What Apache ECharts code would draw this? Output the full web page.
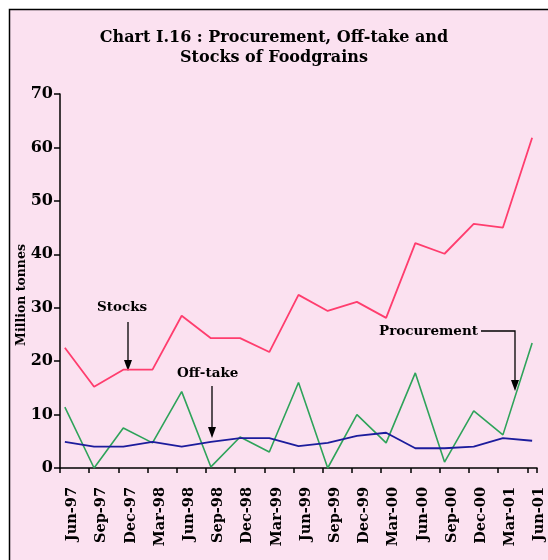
<!DOCTYPE html>
<html>
<head>
<meta charset="utf-8">
<script src="https://cdn.jsdelivr.net/npm/echarts@6/dist/echarts.min.js"></script>
<style>html,body{margin:0;padding:0;background:#fff}#c{width:548px;height:560px}</style>
</head>
<body>
<div id="c"></div>
<script>
// Quarterly labels shown on the axis
var quarterLabels = ['Jun-97','Sep-97','Dec-97','Mar-98','Jun-98','Sep-98','Dec-98','Mar-99','Jun-99','Sep-99','Dec-99','Mar-00','Jun-00','Sep-00','Dec-00','Mar-01','Jun-01'];
// Series values (million tonnes), one per quarter
var stocks      = [22.5, 15.2, 18.4, 18.4, 28.5, 24.3, 24.3, 21.7, 32.4, 29.4, 31.1, 28.1, 42.1, 40.1, 45.7, 45.0, 61.8];
var procurement = [11.4, 0.0, 7.5, 4.7, 14.3, 0.2, 5.8, 3.0, 16.0, 0.0, 10.0, 4.7, 17.8, 1.1, 10.7, 6.2, 23.4];
var offtake     = [4.9, 4.0, 4.0, 4.9, 4.0, 4.9, 5.6, 5.6, 4.1, 4.7, 6.0, 6.6, 3.7, 3.7, 4.0, 5.6, 5.1];
var yTicks = [0, 10, 20, 30, 40, 50, 60, 70];

// Monthly category axis (Jun-97 .. Jun-01); quarterly points sit on every 3rd month
var monthNames = ['Jan','Feb','Mar','Apr','May','Jun','Jul','Aug','Sep','Oct','Nov','Dec'];
var categories = [];
for (var y = 1997; y <= 2001; y++) {
  for (var m = 0; m < 12; m++) {
    if ((y === 1997 && m < 5) || (y === 2001 && m > 5)) continue;
    categories.push(monthNames[m] + '-' + String(y).slice(2));
  }
}
function toMonthly(arr) {
  var out = categories.map(function () { return null; });
  quarterLabels.forEach(function (q, i) { out[categories.indexOf(q)] = arr[i]; });
  return out;
}

var serif = 'DejaVu Serif';
var annFont = 'bold 13.5px "DejaVu Serif"';
var chart = echarts.init(document.getElementById('c'));
chart.setOption({
  backgroundColor: '#ffffff',
  animation: false,
  graphic: [
    { type: 'rect', z: -10, shape: { x: 9.5, y: 9.5, width: 560, height: 560 },
      style: { fill: '#fbe1f0', stroke: '#000', lineWidth: 1.5 } },
    // Y axis name
    { type: 'text', x: 22, y: 295, rotation: Math.PI / 2,
      style: { text: 'Million tonnes', font: 'bold 12.5px "DejaVu Serif"', fill: '#000', align: 'center', verticalAlign: 'middle' } },
    // Stocks annotation
    { type: 'text', left: 97, top: 300, style: { text: 'Stocks', font: annFont, fill: '#000' } },
    { type: 'line', shape: { x1: 128, y1: 322, x2: 128, y2: 366 }, style: { stroke: '#000', lineWidth: 1.3 } },
    { type: 'polygon', shape: { points: [[124, 360], [132, 360], [128, 371]] }, style: { fill: '#000' } },
    // Off-take annotation
    { type: 'text', left: 177, top: 366, style: { text: 'Off-take', font: annFont, fill: '#000' } },
    { type: 'line', shape: { x1: 212, y1: 386, x2: 212, y2: 433 }, style: { stroke: '#000', lineWidth: 1.3 } },
    { type: 'polygon', shape: { points: [[208, 427], [216, 427], [212, 438]] }, style: { fill: '#000' } },
    // Procurement annotation
    { type: 'text', left: 379, top: 324, style: { text: 'Procurement', font: annFont, fill: '#000' } },
    { type: 'polyline', shape: { points: [[481, 331], [515, 331], [515, 385]] }, style: { stroke: '#000', lineWidth: 1.3, fill: null } },
    { type: 'polygon', shape: { points: [[511, 380], [519, 380], [515, 391]] }, style: { fill: '#000' } }
  ],
  title: {
    text: 'Chart I.16 : Procurement, Off-take and\nStocks of Foodgrains',
    left: 'center',
    top: 23,
    textStyle: { fontFamily: serif, fontWeight: 'bold', fontSize: 16, lineHeight: 20, color: '#000' }
  },
  grid: { left: 60, right: 11, top: 94, bottom: 92, containLabel: false },
  xAxis: {
    type: 'category',
    data: categories,
    boundaryGap: true,
    axisLine: { lineStyle: { color: '#000', width: 1.5 } },
    axisTick: { show: true, interval: 2, length: 5, lineStyle: { color: '#000', width: 1.5 } },
    axisLabel: {
      interval: 2, rotate: 90, margin: 19, verticalAlign: 'top',
      fontFamily: serif, fontWeight: 'bold', fontSize: 14.5, color: '#000'
    },
    splitLine: { show: false }
  },
  yAxis: {
    type: 'value',
    min: yTicks[0], max: yTicks[yTicks.length - 1], interval: 10,
    axisLine: { show: true, lineStyle: { color: '#000', width: 1.5 } },
    axisTick: { show: true, length: 6, lineStyle: { color: '#000', width: 1.5 } },
    axisLabel: { fontFamily: serif, fontWeight: 'bold', fontSize: 16, color: '#000', margin: 7 },
    splitLine: { show: false }
  },
  series: [
    { name: 'Stocks', type: 'line', data: toMonthly(stocks), connectNulls: true, symbol: 'none',
      lineStyle: { color: '#ff3d6e', width: 1.8 } },
    { name: 'Procurement', type: 'line', data: toMonthly(procurement), connectNulls: true, symbol: 'none',
      lineStyle: { color: '#2ea35a', width: 1.6 } },
    { name: 'Off-take', type: 'line', data: toMonthly(offtake), connectNulls: true, symbol: 'none',
      lineStyle: { color: '#1c1c9c', width: 1.8 } }
  ]
});
</script>
</body>
</html>
